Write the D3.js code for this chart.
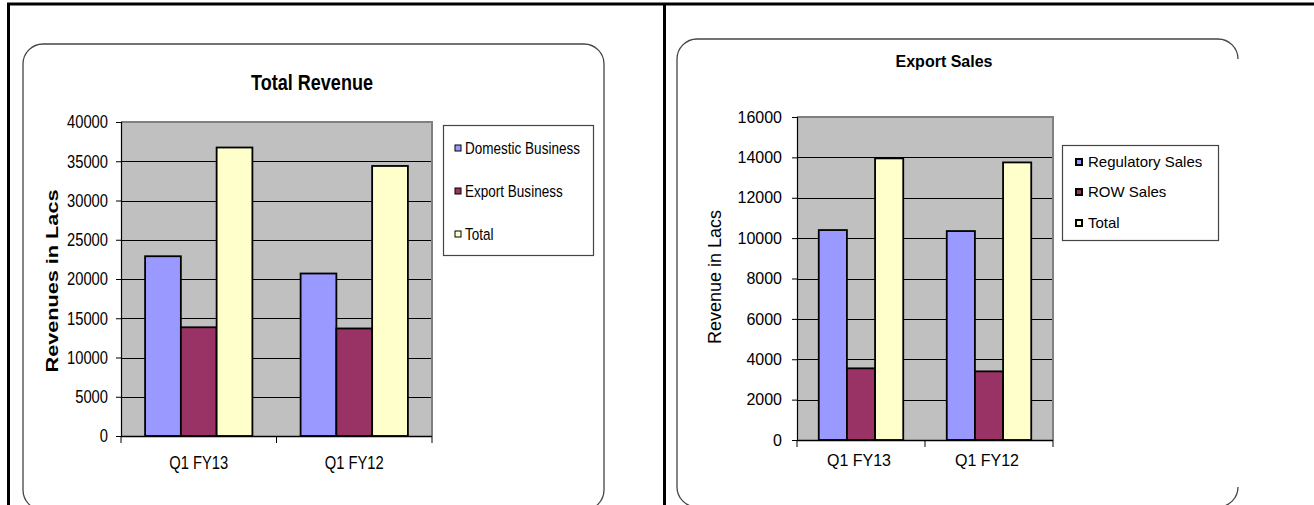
<!DOCTYPE html>
<html>
<head>
<meta charset="utf-8">
<script src="https://cdn.jsdelivr.net/npm/d3@7"></script>
<style>
  html, body { margin: 0; padding: 0; background: #fff; }
  svg { display: block; }
</style>
</head>
<body>
<svg id="page" width="1314" height="505"></svg>
<script>
// Category and series data
const categories = ["Q1 FY13", "Q1 FY12"];

const revenueSeries = ["Domestic Business", "Export Business", "Total"];
const domesticBusiness = [22900, 20700];
const exportBusiness = [13850, 13700];
const totalRevenue = [36750, 34400];
const revenueTicks = [0, 5000, 10000, 15000, 20000, 25000, 30000, 35000, 40000];

const exportSeries = ["Regulatory Sales", "ROW Sales", "Total"];
const regulatorySales = [10400, 10350];
const rowSales = [3550, 3400];
const totalExport = [13950, 13750];
const exportTicks = [0, 2000, 4000, 6000, 8000, 10000, 12000, 14000, 16000];

const seriesColors = ["#9999ff", "#993366", "#ffffcc"];
const fontFamily = "'Liberation Sans', Arial, sans-serif";

const svg = d3.select("#page");

// Page frame: table rules around the two cells
const frame = svg.append("g").attr("stroke", "#000").attr("stroke-width", 3);
frame.append("line").attr("x1", 7).attr("x2", 1314).attr("y1", 4).attr("y2", 4);
frame.append("line").attr("x1", 8.5).attr("x2", 8.5).attr("y1", 3).attr("y2", 505);
frame.append("line").attr("x1", 664.5).attr("x2", 664.5).attr("y1", 3).attr("y2", 505);

// Rounded chart cards
function cardPath(x0, y0, x1, y1, r, openRight) {
  const p = d3.path();
  p.moveTo(x0 + r, y0);
  p.lineTo(x1 - r, y0);
  p.arcTo(x1, y0, x1, y0 + r, r);
  if (openRight) {
    p.moveTo(x1, y1 - r);
  } else {
    p.lineTo(x1, y1 - r);
  }
  p.arcTo(x1, y1, x1 - r, y1, r);
  p.lineTo(x0 + r, y1);
  p.arcTo(x0, y1, x0, y1 - r, r);
  p.lineTo(x0, y0 + r);
  p.arcTo(x0, y0, x0 + r, y0, r);
  return p.toString();
}
svg.append("path").attr("d", cardPath(23, 44, 604, 510, 20, false))
  .attr("fill", "none").attr("stroke", "#444").attr("stroke-width", 1.3);
svg.append("path").attr("d", cardPath(677, 39, 1238, 507, 20, true))
  .attr("fill", "none").attr("stroke", "#444").attr("stroke-width", 1.3);

// Horizontally condense text about its own anchor point
function squeeze(sel, s) {
  if (s === 1) return;
  sel.each(function () {
    const t = d3.select(this);
    const x = +t.attr("x") || 0;
    const y = +t.attr("y") || 0;
    const prev = t.attr("transform") || "";
    t.attr("x", 0).attr("y", 0)
      .attr("transform", `${prev} translate(${x},${y}) scale(${s},1)`);
  });
}

function drawChart(cfg) {
  const g = svg.append("g");
  const y = d3.scaleLinear().domain([cfg.ticks[0], cfg.ticks[cfg.ticks.length - 1]])
    .range([cfg.plot.bottom, cfg.plot.top]);
  const x0 = d3.scaleBand().domain(categories)
    .range([cfg.plot.left, cfg.plot.right]).paddingInner(0).paddingOuter(0);
  const gap = x0.bandwidth() * cfg.groupGap;
  const x1 = d3.scaleBand().domain(cfg.series.map((d, i) => i))
    .range([gap, x0.bandwidth() - gap]).padding(0);

  // plot background
  g.append("rect")
    .attr("x", cfg.plot.left).attr("y", cfg.plot.top)
    .attr("width", cfg.plot.right - cfg.plot.left)
    .attr("height", cfg.plot.bottom - cfg.plot.top)
    .attr("fill", "#c0c0c0");

  // horizontal gridlines
  g.append("g").selectAll("line")
    .data(cfg.ticks.slice(1, -1))
    .join("line")
    .attr("x1", cfg.plot.left).attr("x2", cfg.plot.right)
    .attr("y1", d => Math.round(y(d)) + 0.5).attr("y2", d => Math.round(y(d)) + 0.5)
    .attr("stroke", "#000").attr("stroke-width", 1);

  // plot border top and right
  g.append("path")
    .attr("d", `M${cfg.plot.left},${cfg.plot.top}H${cfg.plot.right}V${cfg.plot.bottom}`)
    .attr("fill", "none").attr("stroke", "#808080").attr("stroke-width", 2);

  // bars
  const rows = categories.map((c, ci) => ({ cat: c, vals: cfg.values.map(v => v[ci]) }));
  g.append("g").selectAll("g")
    .data(rows)
    .join("g")
    .attr("transform", d => `translate(${x0(d.cat)},0)`)
    .selectAll("rect")
    .data(d => d.vals.map((v, i) => ({ v, i })))
    .join("rect")
    .attr("x", d => x1(d.i))
    .attr("y", d => y(d.v))
    .attr("width", x1.bandwidth())
    .attr("height", d => y(0) - y(d.v))
    .attr("fill", d => seriesColors[d.i])
    .attr("stroke", "#000").attr("stroke-width", 1.8);

  // y axis
  const yAxis = d3.axisLeft(y).tickValues(cfg.ticks).tickSize(5).tickPadding(cfg.tickPad)
    .tickFormat(d3.format("d"));
  const ya = g.append("g").attr("transform", `translate(${cfg.plot.left},0)`).call(yAxis);
  ya.select(".domain").attr("stroke", "#000").attr("stroke-width", 1.2);
  ya.selectAll(".tick line").attr("stroke", "#000");
  ya.selectAll("text").attr("font-family", fontFamily).attr("font-size", cfg.tickSize)
    .attr("fill", "#000").call(squeeze, cfg.squeeze);

  // x axis
  const xa = g.append("g").attr("transform", `translate(0,${cfg.plot.bottom})`);
  xa.append("line").attr("x1", cfg.plot.left).attr("x2", cfg.plot.right)
    .attr("y1", 0.5).attr("y2", 0.5).attr("stroke", "#000").attr("stroke-width", 1.5);
  const edges = categories.map(c => x0(c)).concat([cfg.plot.right]);
  xa.selectAll("line.tk").data(edges).join("line").attr("class", "tk")
    .attr("x1", d => d).attr("x2", d => d).attr("y1", 0).attr("y2", 7)
    .attr("stroke", "#000").attr("stroke-width", 1);
  xa.selectAll("text").data(categories).join("text")
    .attr("x", d => x0(d) + x0.bandwidth() / 2 + cfg.catShift)
    .attr("y", cfg.catY - cfg.plot.bottom)
    .attr("dy", "0.35em")
    .attr("text-anchor", "middle")
    .attr("font-family", fontFamily).attr("font-size", cfg.catSize)
    .text(d => d)
    .call(squeeze, cfg.squeeze);

  // title
  g.append("text").attr("x", cfg.title.x).attr("y", cfg.title.y).attr("dy", "0.35em")
    .attr("text-anchor", "middle").attr("font-family", fontFamily)
    .attr("font-weight", "bold").attr("font-size", cfg.title.size)
    .text(cfg.title.text)
    .call(squeeze, cfg.squeeze);

  // y axis title
  const yt = g.append("text")
    .attr("transform", `translate(${cfg.yTitle.x},${cfg.yTitle.y}) rotate(-90)`)
    .attr("dy", "0.35em").attr("text-anchor", "middle")
    .attr("font-family", fontFamily)
    .attr("font-weight", cfg.yTitle.weight).attr("font-size", cfg.yTitle.size)
    .text(cfg.yTitle.text);
  if (cfg.yTitle.length) {
    yt.attr("textLength", cfg.yTitle.length).attr("lengthAdjust", "spacingAndGlyphs");
  }

  // legend
  const L = cfg.legend;
  const lg = g.append("g");
  lg.append("rect").attr("x", L.x0 + 0.5).attr("y", L.y0 + 0.5)
    .attr("width", L.x1 - L.x0).attr("height", L.y1 - L.y0)
    .attr("fill", "#fff").attr("stroke", "#444").attr("stroke-width", 1.2);
  const items = lg.selectAll("g").data(cfg.series).join("g")
    .attr("transform", (d, i) => `translate(0,${L.rows[i]})`);
  items.append("rect").attr("x", L.sx).attr("y", -L.sq / 2)
    .attr("width", L.sq).attr("height", L.sq)
    .attr("fill", (d, i) => seriesColors[i])
    .attr("stroke", "#000").attr("stroke-width", L.sqStroke);
  items.append("text").attr("x", L.tx).attr("dy", "0.35em")
    .attr("font-family", fontFamily).attr("font-size", L.size)
    .text(d => d)
    .call(squeeze, cfg.squeeze);
}

drawChart({
  series: revenueSeries,
  values: [domesticBusiness, exportBusiness, totalRevenue],
  ticks: revenueTicks,
  plot: { left: 121, right: 432, top: 122, bottom: 436 },
  groupGap: 0.155,
  squeeze: 0.82,
  tickSize: 18, tickPad: 8,
  catSize: 18, catY: 463, catShift: 0,
  title: { text: "Total Revenue", x: 312, y: 82, size: 22 },
  yTitle: { text: "Revenues in Lacs", x: 52, y: 281, size: 17, weight: "bold", length: 183 },
  legend: { x0: 443, y0: 125, x1: 593, y1: 255, rows: [148, 191, 234],
            sx: 455, sq: 6, sqStroke: 1, tx: 465, size: 16.5 }
});

drawChart({
  series: exportSeries,
  values: [regulatorySales, rowSales, totalExport],
  ticks: exportTicks,
  plot: { left: 797, right: 1053, top: 117, bottom: 440 },
  groupGap: 0.17,
  squeeze: 1,
  tickSize: 16, tickPad: 10,
  catSize: 16, catY: 460, catShift: -2,
  title: { text: "Export Sales", x: 944, y: 61, size: 16 },
  yTitle: { text: "Revenue in Lacs", x: 715, y: 277, size: 18, weight: "normal", length: 0 },
  legend: { x0: 1062, y0: 145, x1: 1218, y1: 240, rows: [162, 192, 223],
            sx: 1076, sq: 6, sqStroke: 2, tx: 1088, size: 15 }
});
</script>
</body>
</html>
